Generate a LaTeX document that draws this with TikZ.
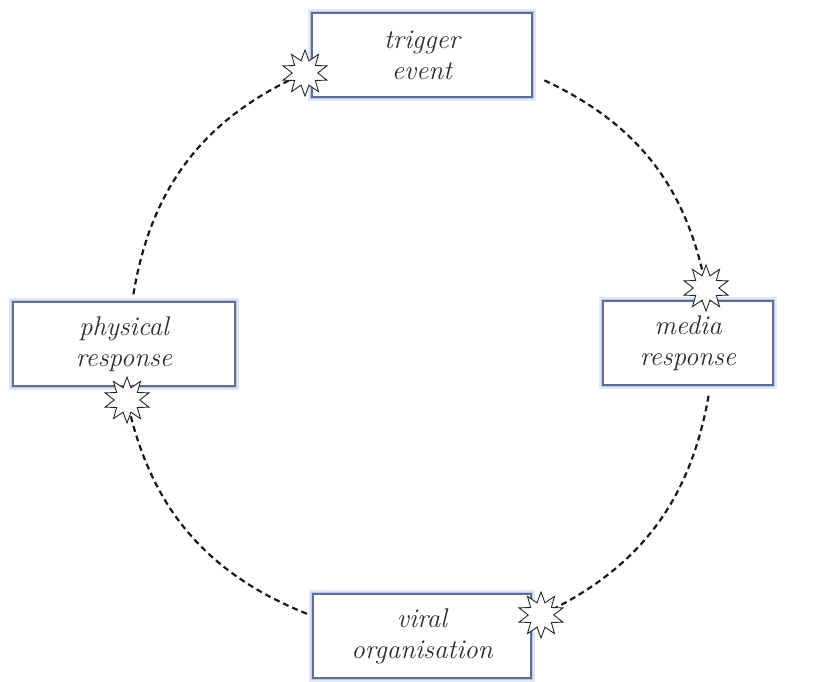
\documentclass[tikz,border=0pt]{standalone}
\usetikzlibrary{shapes.geometric,calc}
\definecolor{boxedge}{RGB}{96,110,142}
\definecolor{glowA}{RGB}{206,216,242}
\definecolor{glowB}{RGB}{170,186,228}
\definecolor{txt}{RGB}{45,45,45}
\begin{document}
\begin{tikzpicture}[x=1pt,y=1pt,
  stage/.style={draw=boxedge, line width=1.1pt, fill=white,
    minimum height=84pt, inner sep=0pt, align=center, text=txt,
    font=\fontsize{27}{31}\selectfont\itshape,
    preaction={draw=glowA, line width=8pt, opacity=0.6},
    preaction={draw=glowB, line width=4pt, opacity=0.7}},
  burst/.style={shape=star, star points=10, star point ratio=1.8,
    minimum size=46pt, inner sep=0pt, draw=black!85, line width=0.9pt, fill=white},
  conn/.style={line width=2.2pt, dash pattern=on 6pt off 4pt, black!90}]
\useasboundingbox (0,0) rectangle (832,681);
\coordinate (ctr) at (421,336);

% the four stages of the cycle
\node[stage, minimum width=220pt] (trig) at (422,626) {trigger\\event};
\node[stage, minimum width=170pt] (media) at (688,338) {media\\response};
\node[stage, minimum width=222pt] (phys) at (124,337) {physical\\response};
\node[stage, minimum width=218pt] (viral) at (422,45) {viral\\organisation};

% where each dashed arc leaves its stage
\coordinate (trig-out)  at ($(ctr)+(65:292)$);
\coordinate (media-out) at ($(ctr)+(-10:292)$);
\coordinate (viral-out) at ($(ctr)+(-113:292)$);
\coordinate (phys-out)  at ($(ctr)+(170:292)$);

% bursts where each arc arrives
\coordinate (b1) at (305,608);
\coordinate (b2) at (706,393);
\coordinate (b3) at (127,281);
\coordinate (b4) at (541,66);

\draw[conn] (trig-out)  to[bend left=27]   (b2);
\draw[conn] (media-out) to[bend left=27.5] (b4);
\draw[conn] (viral-out) to[bend left=28]   (b3);
\draw[conn] (phys-out)  to[bend left=28.5] (b1);

\node[burst] (s1) at (b1) {};
\node[burst] (s2) at (b2) {};
\node[burst] (s3) at (b3) {};
\node[burst] (s4) at (b4) {};
\end{tikzpicture}
\end{document}
